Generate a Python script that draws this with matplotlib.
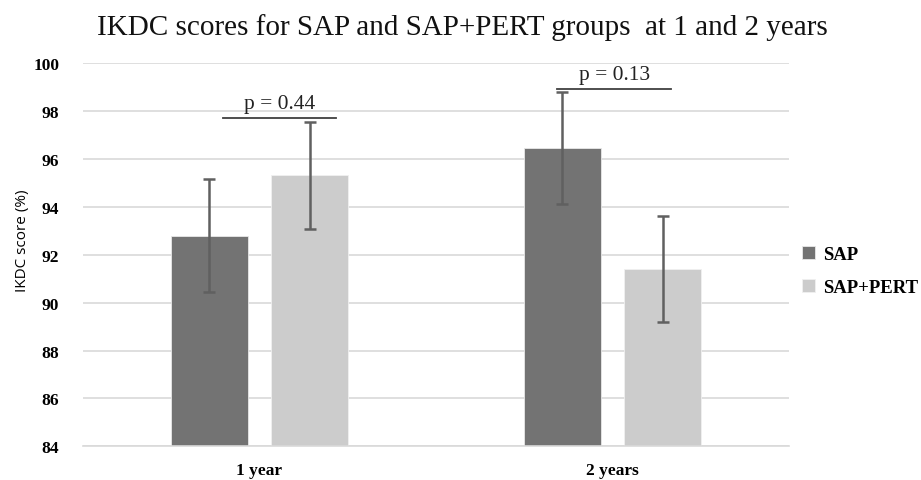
import matplotlib
matplotlib.use("Agg")
import matplotlib.pyplot as plt
import numpy as np

categories = ["1 year", "2 years"]
series_names = ["SAP", "SAP+PERT"]
sap_means = [92.8, 96.47]
pert_means = [95.32, 91.41]
sap_err = [2.37, 2.33]
pert_err = [2.24, 2.22]
p_labels = ["p = 0.44", "p = 0.13"]
yticks = [84, 86, 88, 90, 92, 94, 96, 98, 100]

serif = ["Liberation Serif", "DejaVu Serif"]
sans = ["Open Sans", "DejaVu Sans"]

fig = plt.figure(figsize=(9.21, 4.81), dpi=100)
ax = fig.add_axes([0.0901, 0.0701, 0.7666, 0.7962])

x = np.arange(len(categories))
w = 0.22
off = 0.142
c_sap = "#737373"
c_pert = "#cccccc"
c_err = "#606060"

ax.bar(x - off, sap_means, w, color=c_sap, label=series_names[0], zorder=2,
       edgecolor="#e8e8e8", linewidth=0.6)
ax.bar(x + off, pert_means, w, color=c_pert, label=series_names[1], zorder=2,
       edgecolor="#f0f0f0", linewidth=0.6)
ax.errorbar(x - off, sap_means, yerr=sap_err, fmt="none", ecolor=c_err,
            elinewidth=1.8, capsize=4.5, capthick=1.8, zorder=3)
ax.errorbar(x + off, pert_means, yerr=pert_err, fmt="none", ecolor=c_err,
            elinewidth=1.8, capsize=4.5, capthick=1.8, zorder=3)

ax.set_ylim(84, 100)
ax.set_xlim(-0.5, 1.5)
ax.set_yticks(yticks)
ax.set_yticklabels([str(t) for t in yticks], fontfamily=serif, fontweight="bold", fontsize=12.5)
ax.set_xticks(x)
ax.set_xticklabels(categories, fontfamily=serif, fontweight="bold", fontsize=12.5)
ax.tick_params(axis="both", length=0)
ax.tick_params(axis="y", pad=17)
ax.tick_params(axis="x", pad=11)
ax.yaxis.grid(True, color="#d9d9d9", linewidth=1.2, zorder=0)
ax.set_axisbelow(True)
for s in ["top", "right", "left"]:
    ax.spines[s].set_visible(False)
ax.spines["bottom"].set_color("#d9d9d9")
ax.spines["bottom"].set_linewidth(1.2)

ax.set_ylabel("IKDC score (%)", fontfamily=sans, fontsize=11, labelpad=4)
ax.yaxis.set_label_coords(-0.075, 0.54)

# p-value annotations
p_line_x = [(-0.103, 0.217), (0.843, 1.166)]
p_line_y = [97.70, 98.91]
for i, lab in enumerate(p_labels):
    x0, x1 = p_line_x[i]
    ax.plot([x0, x1], [p_line_y[i]] * 2, color="#404040", linewidth=1.3, zorder=4)
    ax.text((x0 + x1) / 2, p_line_y[i] + 0.22, lab, ha="center", va="bottom",
            fontfamily=serif, fontsize=15.5, color="#222222")

fig.suptitle("IKDC scores for SAP and SAP+PERT groups  at 1 and 2 years",
             x=0.502, y=0.97, fontfamily=serif, fontsize=21, color="#111111")

leg = fig.legend(loc="upper left", bbox_to_anchor=(0.853, 0.522), frameon=False,
                 handlelength=0.68, handleheight=0.68, handletextpad=0.42,
                 labelspacing=0.85, prop={"family": serif, "weight": "bold", "size": 13.5})

fig.savefig("out.png", dpi=100, facecolor="white")
